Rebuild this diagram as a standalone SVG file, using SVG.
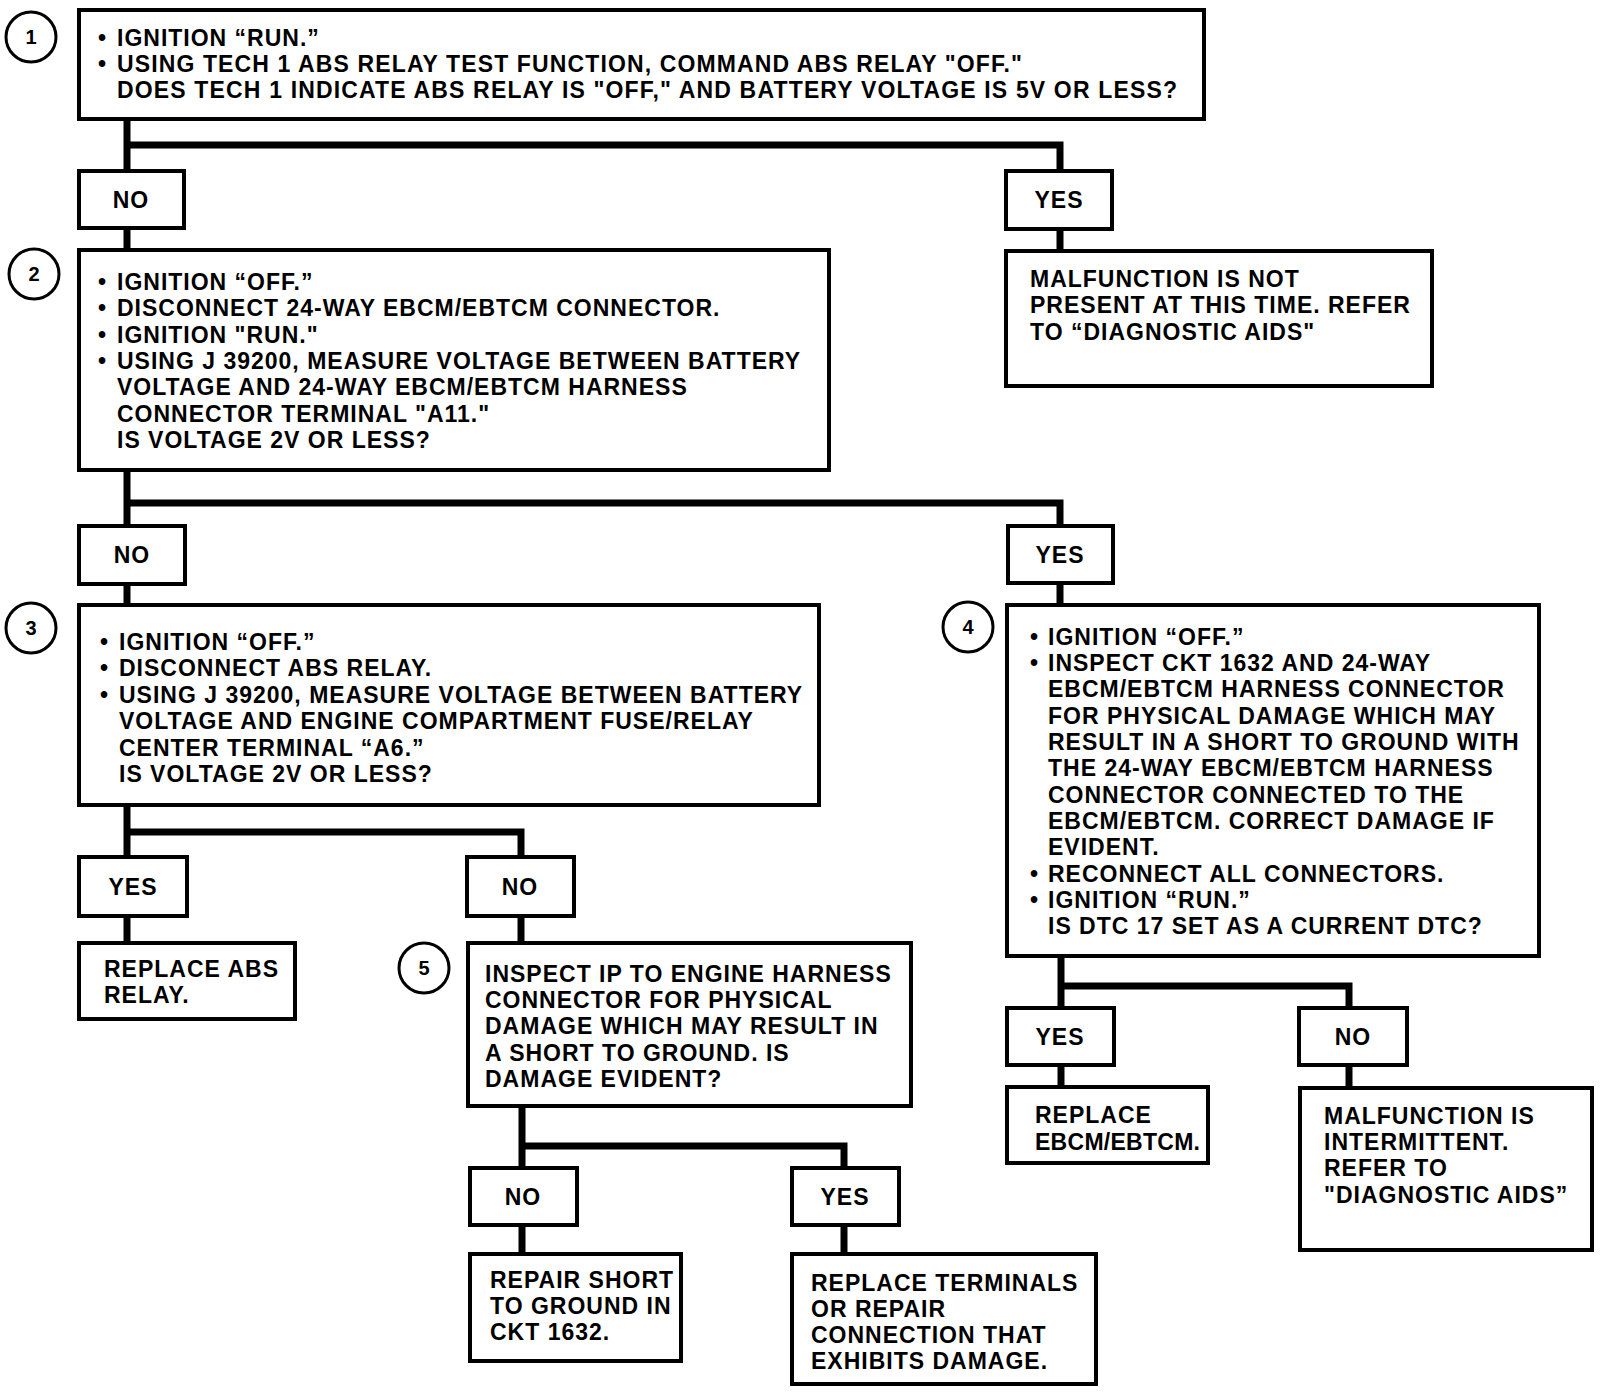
<svg xmlns="http://www.w3.org/2000/svg" width="1616" height="1394" viewBox="0 0 1616 1394">
<style>
  .bg { fill: #ffffff; }
  .box { fill: #ffffff; stroke: #000000; stroke-width: 4; }
  .conn { fill: none; stroke: #000000; stroke-width: 7; stroke-linejoin: miter; stroke-linecap: butt; }
  .num { fill: #ffffff; stroke: #000000; stroke-width: 3; }
  text { font-family: "Liberation Sans", Arial, "DejaVu Sans", sans-serif; font-weight: bold; fill: #000000; }
  .t { font-size: 23px; letter-spacing: 1px; }
  .lbl { font-size: 23px; letter-spacing: 1px; text-anchor: middle; }
  .n { font-size: 20px; text-anchor: middle; }
</style>
<rect class="bg" x="0" y="0" width="1616" height="1394"/>

<g id="connectors">
  <path class="conn" d="M127,121 V169 M127,145 H1060 V169"/>
  <path class="conn" d="M127,230 V248"/>
  <path class="conn" d="M1060,231 V249"/>
  <path class="conn" d="M127,472 V524 M127,503 H1060 V524"/>
  <path class="conn" d="M127,586 V603"/>
  <path class="conn" d="M1060,585 V603"/>
  <path class="conn" d="M127,807 V855 M127,832 H521 V855"/>
  <path class="conn" d="M127,918 V941"/>
  <path class="conn" d="M521,918 V941"/>
  <path class="conn" d="M1061,958 V1006 M1061,986 H1349 V1006"/>
  <path class="conn" d="M1061,1067 V1085"/>
  <path class="conn" d="M1349,1067 V1086"/>
  <path class="conn" d="M522,1108 V1166 M522,1146 H844 V1166"/>
  <path class="conn" d="M522,1227 V1252"/>
  <path class="conn" d="M844,1227 V1252"/>
</g>

<g id="step1">
  <circle class="num" cx="31" cy="37" r="25"/>
  <text class="n" x="31" y="44">1</text>
  <rect class="box" x="79" y="10" width="1125" height="109"/>
  <text class="t" x="98" y="46">•</text>
  <text class="t" x="117" y="46">IGNITION “RUN.”</text>
  <text class="t" x="98" y="72">•</text>
  <text class="t" x="117" y="72" textLength="906" lengthAdjust="spacing">USING TECH 1 ABS RELAY TEST FUNCTION, COMMAND ABS RELAY "OFF."</text>
  <text class="t" x="117" y="98" textLength="1061" lengthAdjust="spacing">DOES TECH 1 INDICATE ABS RELAY IS "OFF," AND BATTERY VOLTAGE IS 5V OR LESS?</text>
</g>

<g id="no1">
  <rect class="box" x="79" y="171" width="105" height="57"/>
  <text class="lbl" x="131" y="208">NO</text>
</g>

<g id="yes1">
  <rect class="box" x="1006" y="171" width="106" height="58"/>
  <text class="lbl" x="1059" y="208">YES</text>
</g>

<g id="not-present">
  <rect class="box" x="1006" y="251" width="426" height="135"/>
  <text class="t" x="1030" y="287">MALFUNCTION IS NOT</text>
  <text class="t" x="1030" y="313">PRESENT AT THIS TIME. REFER</text>
  <text class="t" x="1030" y="340">TO “DIAGNOSTIC AIDS"</text>
</g>

<g id="step2">
  <circle class="num" cx="34" cy="274" r="25"/>
  <text class="n" x="34" y="281">2</text>
  <rect class="box" x="79" y="250" width="750" height="220"/>
  <text class="t" x="98" y="290">•</text>
  <text class="t" x="117" y="290">IGNITION “OFF.”</text>
  <text class="t" x="98" y="316">•</text>
  <text class="t" x="117" y="316">DISCONNECT 24-WAY EBCM/EBTCM CONNECTOR.</text>
  <text class="t" x="98" y="343">•</text>
  <text class="t" x="117" y="343">IGNITION "RUN."</text>
  <text class="t" x="98" y="369">•</text>
  <text class="t" x="117" y="369">USING J 39200, MEASURE VOLTAGE BETWEEN BATTERY</text>
  <text class="t" x="117" y="395">VOLTAGE AND 24-WAY EBCM/EBTCM HARNESS</text>
  <text class="t" x="117" y="422">CONNECTOR TERMINAL "A11."</text>
  <text class="t" x="117" y="448">IS VOLTAGE 2V OR LESS?</text>
</g>

<g id="no2">
  <rect class="box" x="79" y="526" width="106" height="58"/>
  <text class="lbl" x="132" y="563">NO</text>
</g>

<g id="yes2">
  <rect class="box" x="1008" y="526" width="105" height="57"/>
  <text class="lbl" x="1060" y="563">YES</text>
</g>

<g id="step3">
  <circle class="num" cx="31" cy="628" r="25"/>
  <text class="n" x="31" y="635">3</text>
  <rect class="box" x="79" y="605" width="740" height="200"/>
  <text class="t" x="100" y="650">•</text>
  <text class="t" x="119" y="650">IGNITION “OFF.”</text>
  <text class="t" x="100" y="676">•</text>
  <text class="t" x="119" y="676">DISCONNECT ABS RELAY.</text>
  <text class="t" x="100" y="703">•</text>
  <text class="t" x="119" y="703">USING J 39200, MEASURE VOLTAGE BETWEEN BATTERY</text>
  <text class="t" x="119" y="729">VOLTAGE AND ENGINE COMPARTMENT FUSE/RELAY</text>
  <text class="t" x="119" y="756">CENTER TERMINAL “A6.”</text>
  <text class="t" x="119" y="782">IS VOLTAGE 2V OR LESS?</text>
</g>

<g id="step4">
  <circle class="num" cx="968" cy="627" r="25"/>
  <text class="n" x="968" y="634">4</text>
  <rect class="box" x="1007" y="605" width="532" height="351"/>
  <text class="t" x="1030" y="645">•</text>
  <text class="t" x="1048" y="645">IGNITION “OFF.”</text>
  <text class="t" x="1030" y="671">•</text>
  <text class="t" x="1048" y="671">INSPECT CKT 1632 AND 24-WAY</text>
  <text class="t" x="1048" y="697">EBCM/EBTCM HARNESS CONNECTOR</text>
  <text class="t" x="1048" y="724">FOR PHYSICAL DAMAGE WHICH MAY</text>
  <text class="t" x="1048" y="750">RESULT IN A SHORT TO GROUND WITH</text>
  <text class="t" x="1048" y="776">THE 24-WAY EBCM/EBTCM HARNESS</text>
  <text class="t" x="1048" y="803">CONNECTOR CONNECTED TO THE</text>
  <text class="t" x="1048" y="829">EBCM/EBTCM. CORRECT DAMAGE IF</text>
  <text class="t" x="1048" y="855">EVIDENT.</text>
  <text class="t" x="1030" y="882">•</text>
  <text class="t" x="1048" y="882">RECONNECT ALL CONNECTORS.</text>
  <text class="t" x="1030" y="908">•</text>
  <text class="t" x="1048" y="908">IGNITION “RUN.”</text>
  <text class="t" x="1048" y="934">IS DTC 17 SET AS A CURRENT DTC?</text>
</g>

<g id="yes3">
  <rect class="box" x="79" y="857" width="108" height="59"/>
  <text class="lbl" x="133" y="895">YES</text>
</g>

<g id="no3">
  <rect class="box" x="467" y="857" width="107" height="59"/>
  <text class="lbl" x="520" y="895">NO</text>
</g>

<g id="replace-relay">
  <rect class="box" x="79" y="943" width="216" height="76"/>
  <text class="t" x="104" y="977">REPLACE ABS</text>
  <text class="t" x="104" y="1003">RELAY.</text>
</g>

<g id="step5">
  <circle class="num" cx="424" cy="968" r="25"/>
  <text class="n" x="424" y="975">5</text>
  <rect class="box" x="468" y="943" width="443" height="163"/>
  <text class="t" x="485" y="982">INSPECT IP TO ENGINE HARNESS</text>
  <text class="t" x="485" y="1008">CONNECTOR FOR PHYSICAL</text>
  <text class="t" x="485" y="1034">DAMAGE WHICH MAY RESULT IN</text>
  <text class="t" x="485" y="1061">A SHORT TO GROUND. IS</text>
  <text class="t" x="485" y="1087">DAMAGE EVIDENT?</text>
</g>

<g id="yes4">
  <rect class="box" x="1007" y="1008" width="107" height="57"/>
  <text class="lbl" x="1060" y="1045">YES</text>
</g>

<g id="no4">
  <rect class="box" x="1299" y="1008" width="108" height="57"/>
  <text class="lbl" x="1353" y="1045">NO</text>
</g>

<g id="replace-ebcm">
  <rect class="box" x="1007" y="1087" width="201" height="76"/>
  <text class="t" x="1035" y="1123">REPLACE</text>
  <text class="t" x="1035" y="1150" textLength="166" lengthAdjust="spacing">EBCM/EBTCM.</text>
</g>

<g id="intermittent">
  <rect class="box" x="1300" y="1088" width="292" height="162"/>
  <text class="t" x="1324" y="1124">MALFUNCTION IS</text>
  <text class="t" x="1324" y="1150">INTERMITTENT.</text>
  <text class="t" x="1324" y="1176">REFER TO</text>
  <text class="t" x="1324" y="1203">"DIAGNOSTIC AIDS”</text>
</g>

<g id="no5">
  <rect class="box" x="470" y="1168" width="107" height="57"/>
  <text class="lbl" x="523" y="1205">NO</text>
</g>

<g id="yes5">
  <rect class="box" x="792" y="1168" width="107" height="57"/>
  <text class="lbl" x="845" y="1205">YES</text>
</g>

<g id="repair-short">
  <rect class="box" x="470" y="1254" width="211" height="107"/>
  <text class="t" x="490" y="1288">REPAIR SHORT</text>
  <text class="t" x="490" y="1314">TO GROUND IN</text>
  <text class="t" x="490" y="1340">CKT 1632.</text>
</g>

<g id="replace-terminals">
  <rect class="box" x="792" y="1254" width="304" height="130"/>
  <text class="t" x="811" y="1291">REPLACE TERMINALS</text>
  <text class="t" x="811" y="1317">OR REPAIR</text>
  <text class="t" x="811" y="1343">CONNECTION THAT</text>
  <text class="t" x="811" y="1369">EXHIBITS DAMAGE.</text>
</g>
</svg>
